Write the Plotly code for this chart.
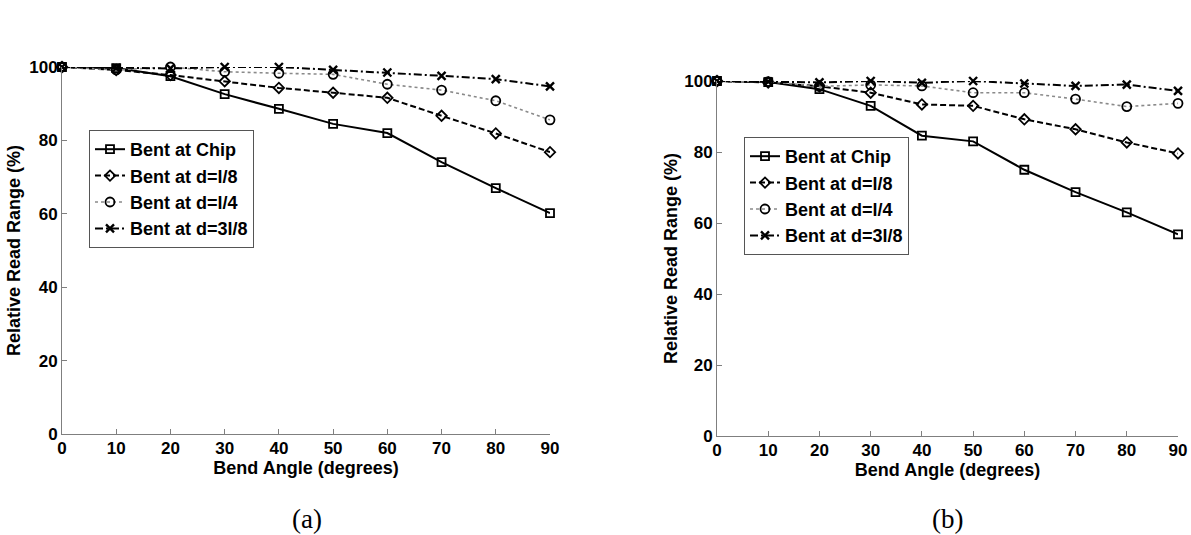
import plotly.graph_objects as go

angles = [0, 10, 20, 30, 40, 50, 60, 70, 80, 90]
series_names = ["Bent at Chip", "Bent at d=l/8", "Bent at d=l/4", "Bent at d=3l/8"]

# Panel (a)
a_chip = [100, 99.7, 97.5, 92.6, 88.6, 84.5, 82.0, 74.1, 67.0, 60.2]
a_l8 = [100, 99.2, 97.8, 96.1, 94.3, 93.0, 91.6, 86.7, 81.9, 76.8]
a_l4 = [100, 99.2, 100, 98.7, 98.3, 98.0, 95.3, 93.7, 90.8, 85.6]
a_3l8 = [100, 99.7, 99.6, 100, 100, 99.2, 98.5, 97.6, 96.7, 94.7]

# Panel (b)
b_chip = [100, 99.7, 97.7, 93.0, 84.6, 83.0, 75.0, 68.7, 63.0, 56.8]
b_l8 = [100, 99.6, 98.5, 96.7, 93.4, 93.0, 89.2, 86.4, 82.7, 79.6]
b_l4 = [100, 99.8, 98.5, 98.9, 98.6, 96.7, 96.7, 94.9, 92.8, 93.7]
b_3l8 = [100, 99.8, 99.6, 100, 99.5, 100, 99.3, 98.6, 99.0, 97.2]

y_ticks = [0, 20, 40, 60, 80, 100]
x_ticks = [0, 10, 20, 30, 40, 50, 60, 70, 80, 90]

W, H = 1191, 535
FONT = "Liberation Sans, Arial, Helvetica, sans-serif"

styles = [
    dict(line=dict(color="black", width=2, dash="solid"),
         marker=dict(symbol="square-open", size=8, color="black", line=dict(width=1.8, color="black"))),
    dict(line=dict(color="black", width=2, dash="6px,3px"),
         marker=dict(symbol="diamond-open", size=8, color="black", line=dict(width=1.8, color="black"))),
    dict(line=dict(color="#8a8a8a", width=1.6, dash="dot"),
         marker=dict(symbol="circle-open", size=9, color="black", line=dict(width=1.8, color="black"))),
    dict(line=dict(color="black", width=2, dash="8px,3px,2px,3px"),
         marker=dict(symbol="x-thin", size=8, color="black", line=dict(width=2.4, color="black"))),
]

fig = go.Figure()
panels = [
    ("x", "y", "legend", [a_chip, a_l8, a_l4, a_3l8]),
    ("x2", "y2", "legend2", [b_chip, b_l8, b_l4, b_3l8]),
]
for xa, ya, lg, data in panels:
    for name, vals, st in zip(series_names, data, styles):
        fig.add_trace(go.Scatter(
            x=angles, y=vals, name=name, mode="lines+markers",
            xaxis=xa, yaxis=ya, legend=lg, cliponaxis=False,
            line=st["line"], marker=st["marker"],
        ))

def px_x(p):
    return p / W

def px_y(p):
    return 1 - p / H

axis_common = dict(
    showgrid=False, zeroline=False, showline=True, linecolor="#7f7f7f", linewidth=1,
    ticks="inside", ticklen=5, tickcolor="#7f7f7f", tickwidth=1,
    tickfont=dict(family=FONT, size=17, color="black", weight="bold"),
    title_font=dict(family=FONT, size=18, color="black", weight="bold"),
    mirror=False, automargin=False,
)

leg_common = dict(
    xanchor="left", yanchor="top",
    bgcolor="white", bordercolor="#555555", borderwidth=1,
    font=dict(family=FONT, size=18, color="black", weight="bold"),
    itemwidth=30, tracegroupgap=0,
)

fig.update_layout(
    template="none",
    width=W, height=H,
    margin=dict(l=0, r=0, t=0, b=0, pad=0),
    paper_bgcolor="white", plot_bgcolor="white",
    font=dict(family=FONT, size=18, color="black"),
    xaxis=dict(domain=[px_x(62), px_x(550)], range=[0, 90], anchor="y", ticklabelstandoff=-1,
               tickvals=x_ticks, title=dict(text="Bend Angle (degrees)", standoff=0), **axis_common),
    yaxis=dict(domain=[px_y(434), px_y(67)], range=[0, 100], anchor="x", ticklabelstandoff=0,
               tickvals=y_ticks, title=dict(text="Relative Read Range (%)", standoff=3), **axis_common),
    xaxis2=dict(domain=[px_x(717), px_x(1178)], range=[0, 90], anchor="y2", ticklabelstandoff=-1,
                tickvals=x_ticks, title=dict(text="Bend Angle (degrees)", standoff=0), **axis_common),
    yaxis2=dict(domain=[px_y(436), px_y(81)], range=[0, 100], anchor="x2", ticklabelstandoff=0,
                tickvals=y_ticks, title=dict(text="Relative Read Range (%)", standoff=1), **axis_common),
    legend=dict(x=px_x(89), y=px_y(130), **leg_common),
    legend2=dict(x=px_x(744), y=px_y(137), **leg_common),
    showlegend=True,
    annotations=[
        dict(text="(a)", x=px_x(307), y=px_y(519), xref="paper", yref="paper",
             xanchor="center", yanchor="middle", showarrow=False,
             font=dict(family="Liberation Serif, DejaVu Serif, serif", size=27, color="black")),
        dict(text="(b)", x=px_x(947), y=px_y(519), xref="paper", yref="paper",
             xanchor="center", yanchor="middle", showarrow=False,
             font=dict(family="Liberation Serif, DejaVu Serif, serif", size=27, color="black")),
    ],
)

fig.write_html("out.html", config={"displayModeBar": False},
               post_script="document.body.style.margin='0px';")
